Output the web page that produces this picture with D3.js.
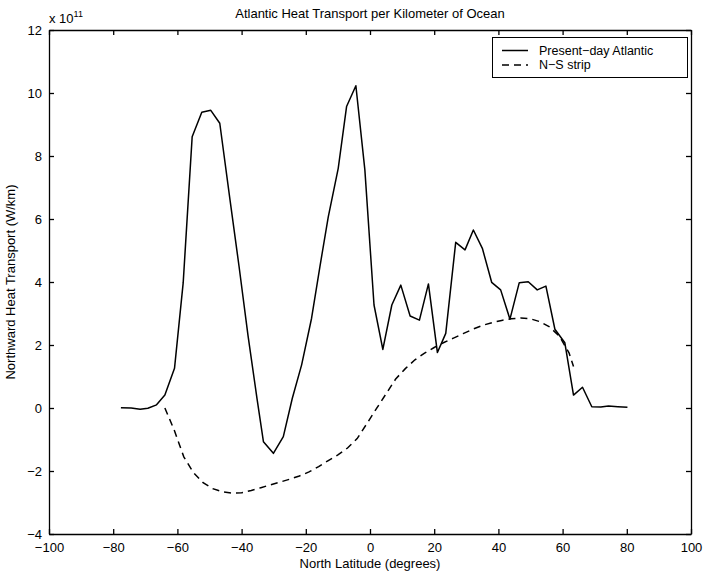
<!DOCTYPE html>
<html>
<head>
<meta charset="utf-8">
<script src="https://cdn.jsdelivr.net/npm/d3@7"></script>
<style>
  html, body { margin: 0; padding: 0; background: #fff; }
  svg text { font-family: "Liberation Sans", Arial, Helvetica, sans-serif; fill: #000; }
</style>
</head>
<body>
<svg id="chart" width="704" height="575"></svg>
<script>
// Present-day Atlantic northward heat transport (units of 1e11 W/km)
const atlanticLat = [-77.6, -74.4, -71.6, -69.2, -66.5, -63.9, -60.9, -58.2, -55.4, -52.4,
  -49.6, -46.8, -43.6, -40.8, -38.0, -35.2, -33.2, -30.1, -27.0, -24.2,
  -21.3, -18.2, -15.6, -13.0, -9.9, -7.3, -4.4, -1.6, 1.25, 4.0,
  6.8, 9.6, 12.5, 15.4, 18.2, 21.0, 23.6, 26.7, 29.6, 32.2,
  35.0, 37.9, 40.7, 43.6, 46.5, 49.3, 52.1, 54.8, 57.6, 60.7,
  63.4, 66.2, 69.1, 71.9, 74.3, 77.2, 80.2];
const atlanticVal = [0.01, 0.00, -0.04, -0.01, 0.10, 0.41, 1.26, 3.97, 8.61, 9.39,
  9.45, 9.04, 6.6, 4.5, 2.3, 0.3, -1.07, -1.44, -0.91, 0.31,
  1.37, 2.85, 4.49, 6.07, 7.61, 9.57, 10.23, 7.56, 3.27, 1.86,
  3.27, 3.90, 2.92, 2.79, 3.94, 1.76, 2.37, 5.26, 5.02, 5.65,
  5.07, 3.99, 3.75, 2.82, 3.98, 4.01, 3.75, 3.87, 2.50, 2.07,
  0.41, 0.66, 0.04, 0.03, 0.06, 0.04, 0.02];

// N-S strip heat transport (units of 1e11 W/km)
const stripLat = [-63.9, -61, -58, -55, -52, -49, -46, -43, -40, -37,
  -34, -31, -28, -25, -22, -19, -16, -13, -10, -7,
  -4, -1, 2, 5, 8, 11, 14, 17, 20, 23,
  26, 29, 32, 35, 38, 41, 44, 47, 50, 53,
  56, 59, 62, 63.4];
const stripVal = [0.0, -0.70, -1.55, -2.05, -2.37, -2.56, -2.66, -2.70, -2.69, -2.62,
  -2.53, -2.44, -2.35, -2.26, -2.16, -2.03, -1.86, -1.67, -1.49, -1.27,
  -0.97, -0.50, -0.02, 0.45, 0.92, 1.25, 1.53, 1.74, 1.92, 2.08,
  2.22, 2.36, 2.50, 2.62, 2.71, 2.78, 2.83, 2.86, 2.83, 2.74,
  2.57, 2.28, 1.75, 1.32];

const xTicks = [-100, -80, -60, -40, -20, 0, 20, 40, 60, 80, 100];
const yTicks = [-4, -2, 0, 2, 4, 6, 8, 10, 12];

const titleText = "Atlantic Heat Transport per Kilometer of Ocean";
const xLabel = "North Latitude (degrees)";
const yLabel = "Northward Heat Transport (W/km)";
const seriesNames = ["Present\u2212day Atlantic", "N\u2212S strip"];

const svg = d3.select("#chart");
const m = { left: 49, right: 691, top: 30, bottom: 534 };

const x = d3.scaleLinear().domain([-100, 100]).range([m.left, m.right]);
const y = d3.scaleLinear().domain([-4, 12]).range([m.bottom, m.top]);

const fmt = d => (d < 0 ? "\u2212" + Math.abs(d) : String(d));
const tickLen = 5;

// axes with inward ticks on all four sides
const axB = svg.append("g").attr("transform", `translate(0,${m.bottom})`)
  .call(d3.axisBottom(x).tickValues(xTicks).tickFormat(fmt).tickSizeInner(-tickLen).tickSizeOuter(0).tickPadding(9));
const axT = svg.append("g").attr("transform", `translate(0,${m.top})`)
  .call(d3.axisTop(x).tickValues(xTicks).tickFormat("").tickSizeInner(-tickLen).tickSizeOuter(0));
const axL = svg.append("g").attr("transform", `translate(${m.left},0)`)
  .call(d3.axisLeft(y).tickValues(yTicks).tickFormat(fmt).tickSizeInner(-tickLen).tickSizeOuter(0).tickPadding(7));
const axR = svg.append("g").attr("transform", `translate(${m.right},0)`)
  .call(d3.axisRight(y).tickValues(yTicks).tickFormat("").tickSizeInner(-tickLen).tickSizeOuter(0));

[axB, axT, axL, axR].forEach(g => {
  g.select(".domain").attr("stroke", "#000").attr("stroke-width", 1.3);
  g.selectAll(".tick line").attr("stroke", "#000").attr("stroke-width", 1.3);
  g.selectAll(".tick text").attr("font-size", 13).attr("font-family", "Liberation Sans, Arial, sans-serif").attr("fill", "#000");
});

// exponent label
const expo = svg.append("text").attr("x", 49).attr("y", 23).attr("font-size", 13);
expo.append("tspan").text("x 10");
expo.append("tspan").attr("font-size", 9).attr("dy", -6).text("11");

// data lines
const line = d3.line().x(d => x(d[0])).y(d => y(d[1]));
const atl = atlanticLat.map((l, i) => [l, atlanticVal[i]]);
const strip = stripLat.map((l, i) => [l, stripVal[i]]);

svg.append("path").datum(atl).attr("d", line)
  .attr("fill", "none").attr("stroke", "#000").attr("stroke-width", 1.5).attr("stroke-linejoin", "round");
svg.append("path").datum(strip).attr("d", line)
  .attr("fill", "none").attr("stroke", "#000").attr("stroke-width", 1.5).attr("stroke-dasharray", "7,5");

// title and axis labels
svg.append("text").attr("x", 370).attr("y", 18).attr("text-anchor", "middle").attr("font-size", 13).text(titleText);
svg.append("text").attr("x", 370).attr("y", 568).attr("text-anchor", "middle").attr("font-size", 13).text(xLabel);
svg.append("text").attr("transform", "translate(15,282) rotate(-90)").attr("text-anchor", "middle").attr("font-size", 13).text(yLabel);

// legend
const lg = svg.append("g");
lg.append("rect").attr("x", 492.5).attr("y", 37.5).attr("width", 195).attr("height", 40)
  .attr("fill", "#fff").attr("stroke", "#000").attr("stroke-width", 1);
const rows = [{ y: 50.5, dash: null }, { y: 65, dash: "7,5" }];
rows.forEach((r, i) => {
  lg.append("line").attr("x1", 502).attr("x2", 528).attr("y1", r.y).attr("y2", r.y)
    .attr("stroke", "#000").attr("stroke-width", 1.5).attr("stroke-dasharray", r.dash);
  lg.append("text").attr("x", 539).attr("y", r.y + 4).attr("font-size", 12.5).text(seriesNames[i]);
});
</script>
</body>
</html>
